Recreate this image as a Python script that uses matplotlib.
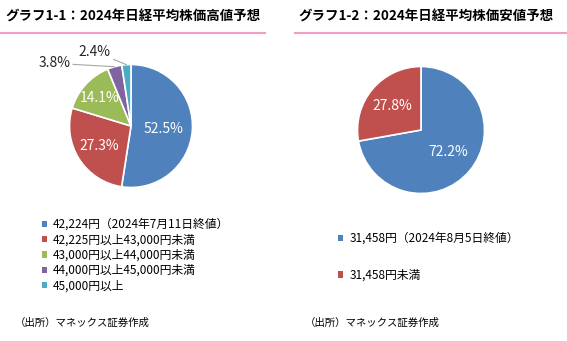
import numpy as np
import matplotlib.pyplot as plt
from matplotlib.lines import Line2D
from matplotlib.patches import Rectangle

plt.rcParams['font.family'] = ['Noto Sans CJK JP', 'DejaVu Sans']

W, H = 567, 341

high_title = 'グラフ1-1：2024年日経平均株価高値予想'
high_labels = ['42,224円（2024年7月11日終値）', '42,225円以上43,000円未満',
               '43,000円以上44,000円未満', '44,000円以上45,000円未満', '45,000円以上']
high_values = [52.5, 27.3, 14.1, 3.8, 2.4]
high_colors = ['#4F81BD', '#C0504D', '#9BBB59', '#8064A2', '#4BACC6']

low_title = 'グラフ1-2：2024年日経平均株価安値予想'
low_labels = ['31,458円（2024年8月5日終値）', '31,458円未満']
low_values = [72.2, 27.8]
low_colors = ['#4F81BD', '#C0504D']

source = '（出所）マネックス証券作成'

PINK = '#F19EC6'


def px_axes(fig, cx, cy, r):
    # axes box in pixel coordinates around a pie of radius r
    return fig.add_axes([(cx - r) / W, 1 - (cy + r) / H, 2 * r / W, 2 * r / H])


def draw_pie(ax, values, colors, inside_r, outside_pos):
    wedges, _ = ax.pie(values, colors=colors, startangle=90, counterclock=False,
                       wedgeprops=dict(edgecolor='white', linewidth=1.2))
    ax.set_xlim(-1, 1)
    ax.set_ylim(-1, 1)
    ax.set_aspect('equal')
    ax.axis('off')
    for i, (w, v) in enumerate(zip(wedges, values)):
        mid = np.deg2rad((w.theta1 + w.theta2) / 2)
        txt = '%.1f%%' % v
        if i in outside_pos:
            tx, ty = outside_pos[i]
            ax.annotate(txt, xy=(np.cos(mid), np.sin(mid)), xytext=(tx, ty),
                        ha='center', va='center', fontsize=10, color='#262626',
                        annotation_clip=False,
                        arrowprops=dict(arrowstyle='-', color='#A6A6A6', lw=0.8,
                                        shrinkA=0, shrinkB=0))
        else:
            r = inside_r[i]
            ax.text(r * np.cos(mid), r * np.sin(mid), txt, ha='center', va='center',
                    fontsize=10, color='white')
    return wedges


fig = plt.figure(figsize=(W / 100, H / 100), dpi=100)

# left: high forecast
ax1 = px_axes(fig, 131, 126, 61.5)
draw_pie(ax1, high_values, high_colors, {0: 0.53, 1: 0.6, 2: 0.68},
         {3: (-1.25, 1.02), 4: (-0.59, 1.21)})

# right: low forecast
ax2 = px_axes(fig, 421, 130, 63.5)
draw_pie(ax2, low_values, low_colors, {0: 0.55, 1: 0.58}, {})

# titles and pink rules
fig.text(5 / W, 1 - 17 / H, high_title, fontsize=9.7, weight='bold', va='center')
fig.text(298 / W, 1 - 17 / H, low_title, fontsize=9.7, weight='bold', va='center')
fig.add_artist(Line2D([0, 265 / W], [1 - 33 / H] * 2, color=PINK, lw=1.5))
fig.add_artist(Line2D([295 / W, 1], [1 - 33 / H] * 2, color=PINK, lw=1.5))

# legends
fig.legend(handles=[Rectangle((0, 0), 1, 1, fc=c) for c in high_colors],
           labels=high_labels, loc='upper left', bbox_to_anchor=(42 / W, 1 - 218 / H),
           frameon=False, fontsize=8.5, handlelength=0.45, handleheight=0.45,
           handletextpad=0.5, labelspacing=0.2, borderpad=0, borderaxespad=0)
fig.legend(handles=[Rectangle((0, 0), 1, 1, fc=c) for c in low_colors],
           labels=low_labels, loc='upper left', bbox_to_anchor=(338 / W, 1 - 232 / H),
           frameon=False, fontsize=8.5, handlelength=0.45, handleheight=0.45,
           handletextpad=0.5, labelspacing=2.0, borderpad=0, borderaxespad=0)

# source notes
fig.text(15 / W, 1 - 323 / H, source, fontsize=7.5, va='center')
fig.text(305 / W, 1 - 323 / H, source, fontsize=7.5, va='center')

fig.savefig('out.png', dpi=100)
